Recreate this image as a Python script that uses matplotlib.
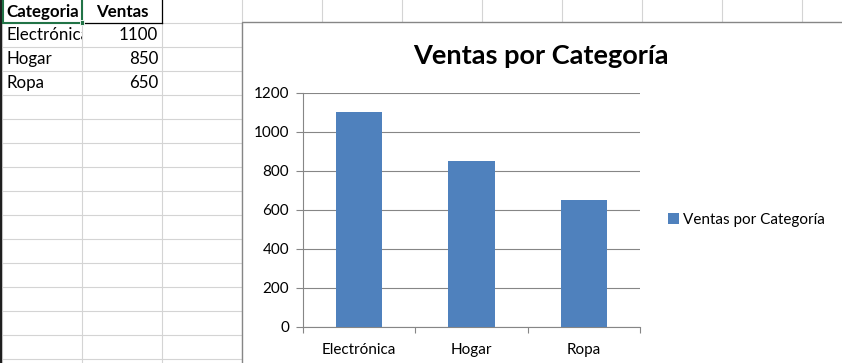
import matplotlib
matplotlib.use('Agg')
import matplotlib.pyplot as plt
from matplotlib.patches import Rectangle

# Data
categorias = ['Electrónica', 'Hogar', 'Ropa']
ventas = [1100, 850, 650]
encabezados = ['Categoria', 'Ventas']
titulo = 'Ventas por Categoría'
y_ticks = [0, 200, 400, 600, 800, 1000, 1200]

W, H = 842, 363
plt.rcParams['font.family'] = ['Lato', 'DejaVu Sans']

fig = plt.figure(figsize=(W / 100, H / 100), dpi=100)
fig.patch.set_facecolor('white')

# Spreadsheet background in pixel coordinates
bg = fig.add_axes([0, 0, 1, 1])
bg.set_xlim(0, W)
bg.set_ylim(H, 0)
bg.axis('off')

grid_c = '#d4d4d4'
col_x = [2 + 80 * i for i in range(12)]
row_y = [23 + 24 * i for i in range(15)]

for x in col_x:
    bg.plot([x, x], [0, H], color=grid_c, lw=0.8, zorder=1)
for y in row_y:
    bg.plot([0, W], [y, y], color=grid_c, lw=0.8, zorder=1)

# row header edge on the left
bg.plot([1, 1], [0, H], color='#1e1e1e', lw=1.6, zorder=2)

# header cell borders
bg.plot([162, 162], [0, 23], color='black', lw=0.9, zorder=3)
bg.plot([82, 162], [23, 23], color='black', lw=0.9, zorder=3)

# selection box around A1
bg.add_patch(Rectangle((2.5, -2), 79, 25, fill=False, ec='#217346', lw=1.5, zorder=4))
bg.add_patch(Rectangle((79.5, 20), 4.5, 4.5, fc='#217346', ec='white', lw=0.6, zorder=5))

fs_cell = 12.2
bg.text(6, 12, encabezados[0], fontsize=fs_cell, fontweight='bold', va='center', ha='left', zorder=6)
bg.text(122, 12, encabezados[1], fontsize=fs_cell, fontweight='bold', va='center', ha='center', zorder=6)
clip_a = Rectangle((2, 0), 80, H, transform=bg.transData)
for i, (cat, val) in enumerate(zip(categorias, ventas)):
    yc = 35 + 24 * i
    t = bg.text(6, yc, cat, fontsize=fs_cell, va='center', ha='left', zorder=6,
                clip_on=True)
    t.set_clip_path(clip_a)
    bg.text(158, yc, str(val), fontsize=fs_cell, va='center', ha='right', zorder=6)

# Chart area
bg.add_patch(Rectangle((242, 22), W - 242 + 5, H, fc='white', ec='#868686', lw=1.0, zorder=7))

fig.text(541 / W, 1 - 56 / H, titulo, fontsize=19.5, fontweight='bold',
         ha='center', va='center')

fs_chart = 11
ax = fig.add_axes([303 / W, 1 - 326.7 / H, (640 - 303) / W, (326.7 - 92.7) / H])
ax.set_zorder(10)
ax.patch.set_alpha(0)
pos = list(range(len(categorias)))
ax.bar(pos, ventas, width=0.41, color='#4f81bd', label=titulo, zorder=3)
ax.set_xlim(-0.5, len(categorias) - 0.5)
ax.set_ylim(0, 1200)
ax.set_yticks(y_ticks)
ax.set_yticklabels([str(v) for v in y_ticks], fontsize=fs_chart)
ax.set_xticks([p - 0.5 for p in pos] + [len(categorias) - 0.5])
ax.set_xticklabels([])
ax.set_xticks(pos, minor=True)
ax.set_xticklabels(categorias, minor=True, fontsize=fs_chart)
ax.tick_params(axis='x', which='major', length=4, color='#868686', width=0.8)
ax.tick_params(axis='x', which='minor', length=0, pad=12)
ax.tick_params(axis='y', length=5, color='#868686', width=0.8, pad=5)
ax.yaxis.grid(True, color='#868686', lw=0.8, zorder=0)
ax.set_axisbelow(True)
for s in ['top', 'right']:
    ax.spines[s].set_visible(False)
for s in ['left', 'bottom']:
    ax.spines[s].set_color('#868686')
    ax.spines[s].set_linewidth(0.8)

ax.legend(loc='center left', bbox_to_anchor=(668 / W, 1 - 220 / H),
          bbox_transform=fig.transFigure, frameon=False, fontsize=fs_chart,
          handlelength=0.7, handleheight=0.7, handletextpad=0.3,
          borderaxespad=0, borderpad=0)

fig.savefig('out.png', dpi=100)
